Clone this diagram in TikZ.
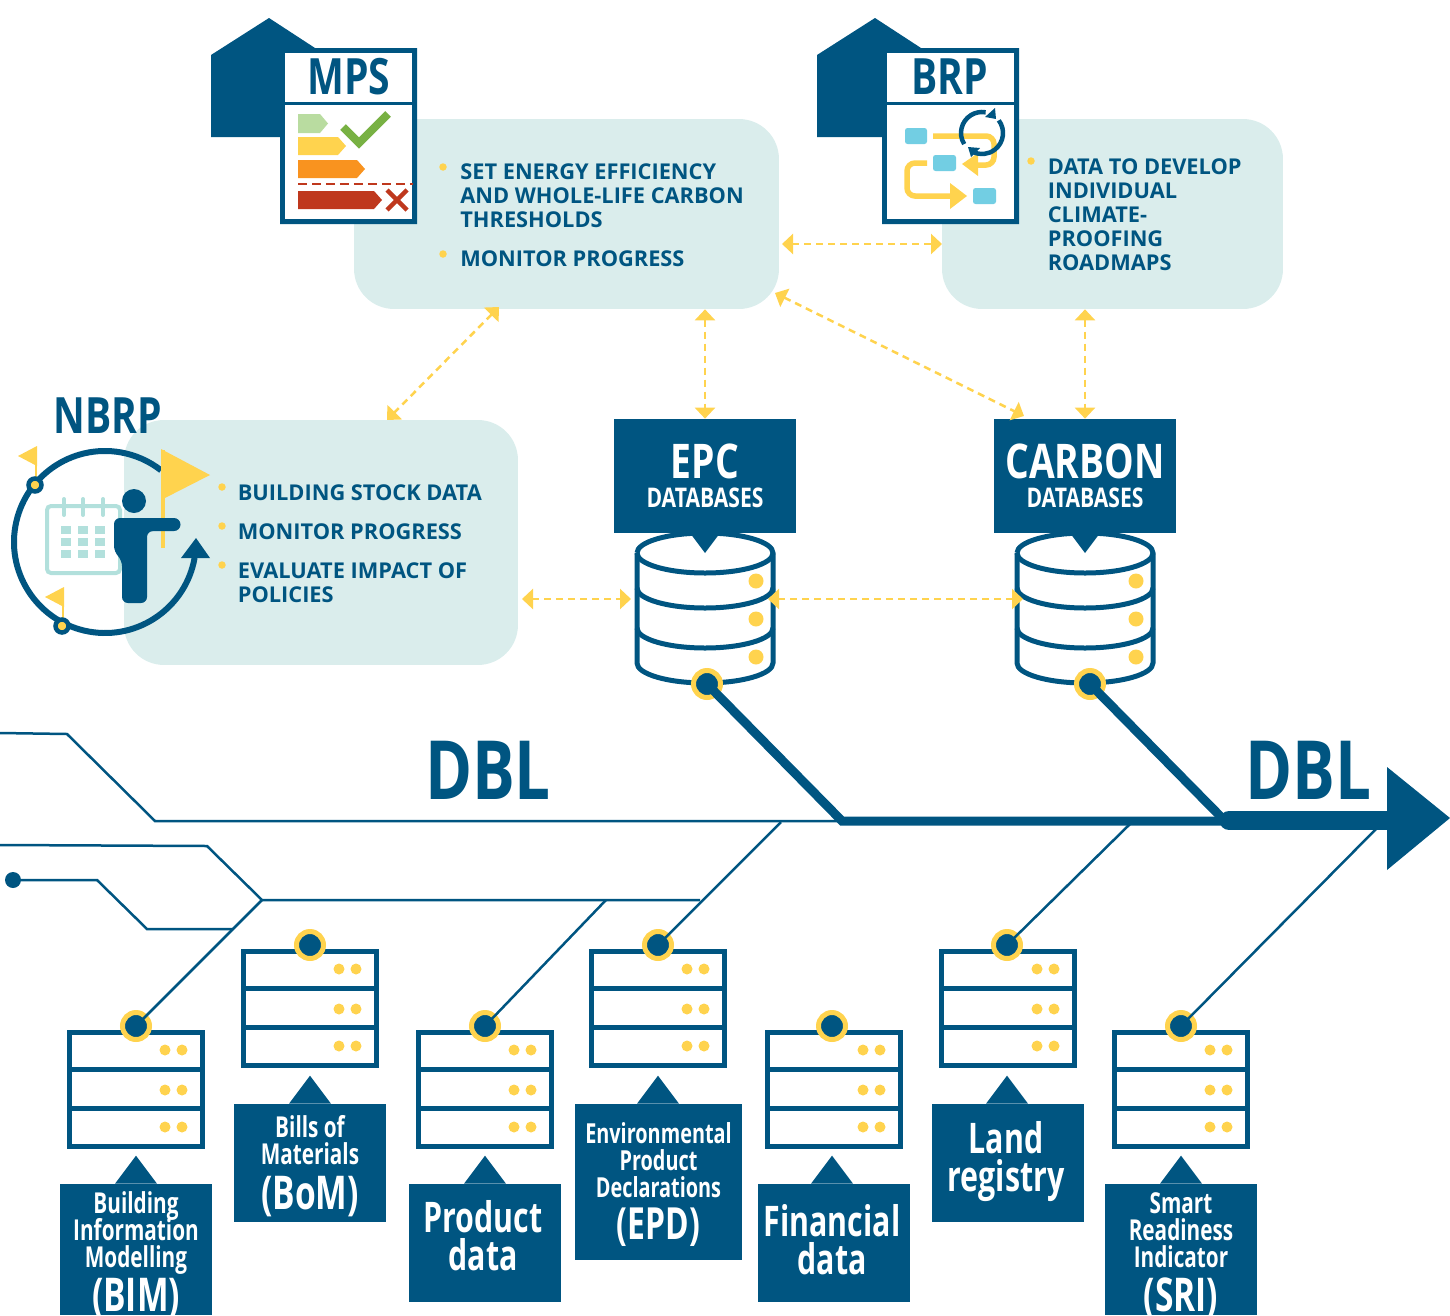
\documentclass[tikz,border=0pt]{standalone}
\usepackage{fontspec}
\setmainfont{Open Sans}
\newfontfamily\condfont[FakeStretch=0.72]{Open Sans}
\newfontfamily\headfont[FakeStretch=0.78]{Open Sans}
\usetikzlibrary{arrows.meta}
\definecolor{navy}{HTML}{005581}
\definecolor{tealbg}{HTML}{DAEDEC}
\definecolor{sun}{HTML}{FFD34E}
\definecolor{calteal}{HTML}{B2E0DC}
\definecolor{skyblue}{HTML}{72CEE3}
\definecolor{barone}{HTML}{B9DCA0}
\definecolor{barthree}{HTML}{F9931F}
\definecolor{barfour}{HTML}{BF381D}
\definecolor{tickgreen}{HTML}{78B143}
\AtBeginDocument{\lineskiplimit=-50pt\normallineskiplimit=-50pt}
\tikzset{
  infobox/.style={fill=tealbg,rounded corners=0.8cm,minimum width=#1},
  infotext/.style={text=navy,anchor=west,align=left,font=\bfseries\fontsize{12.4}{13.66}\selectfont,inner sep=0pt},
  bullet/.style={circle,fill=sun,minimum size=0.15cm,inner sep=0pt},
  dbarrow/.style={{Triangle[length=0.22cm,width=0.4cm]}-{Triangle[length=0.22cm,width=0.4cm]},sun,line width=0.05cm,dash pattern=on 0.14cm off 0.1cm},
  ringdot/.style={circle,draw=sun,fill=navy,line width=0.1cm,minimum size=0.54cm,inner sep=0pt},
  wire/.style={navy,line width=0.05cm},
  heavy/.style={navy,line width=0.18cm,line cap=round},
  bluebox/.style={fill=navy,inner sep=0pt},
  boxtext/.style={text=white,align=center,inner sep=0pt,font=\condfont\bfseries\fontsize{24}{21.6}\selectfont},
  headtext/.style={text=navy,inner sep=0pt,font=\headfont\bfseries\fontsize{28.5}{28.5}\selectfont},
  dbltext/.style={text=navy,inner sep=0pt,font=\headfont\bfseries\fontsize{46.5}{46.5}\selectfont}
}
\newcommand{\smalllbl}{\fontsize{16.4}{21.6}\selectfont}
\newcommand{\parlbl}{\fontsize{26.5}{21.6}\selectfont}
\begin{document}
\begin{tikzpicture}[x=0.02cm,y=-0.02cm]
\useasboundingbox (0,0) rectangle (1450,1315);
% info boxes
\node[infobox=8.5cm,minimum height=3.8cm] (mps) at (566.5,214) {};
\node[infobox=6.82cm,minimum height=3.8cm] (brp) at (1112.5,214) {};
\node[infobox=7.88cm,minimum height=4.9cm] (nbrp) at (321,542.5) {};
\node[infotext] (mpstext) at (460,196) {SET ENERGY EFFICIENCY\\AND WHOLE-LIFE CARBON\\THRESHOLDS};
\node[infotext] (mpsmon) at (460,259) {MONITOR PROGRESS};
\node[infotext] (brptext) at (1047.5,215) {DATA TO DEVELOP\\INDIVIDUAL\\CLIMATE-\\PROOFING\\ROADMAPS};
\node[infotext] (nbrpdata) at (237.5,493) {BUILDING STOCK DATA};
\node[infotext] (nbrpmon) at (237.5,532) {MONITOR PROGRESS};
\node[infotext] (nbrpeval) at (237.5,583) {EVALUATE IMPACT OF\\POLICIES};
\foreach \nm/\x/\y in {a/443/167,b/443/254,c/1031/161,d/222/487,e/222/526,f/222/565}
    \node[bullet] (bullet\nm) at (\x,\y) {};
% MPS document
\fill[navy] (211,55) -- (269,18) -- (315,48) -- (417,48) -- (417,224) -- (280,224) -- (280,137) -- (211,137) -- cycle;
\draw[navy,line width=0.1cm,fill=white] (282.5,50.5) rectangle (414.5,221.5);
\draw[navy,line width=0.06cm] (285,103) -- (412,103);
\node[headtext] (mpstitle) at (349,77) {MPS};
\foreach \col/\a/\b/\end in {barone/114/133/320,sun/137/155/338,barthree/160/178/357,barfour/191/209/374}
    \fill[\col] (298,\a) -- (\end,\a) -- (\end+8,{(\a+\b)/2}) -- (\end,\b) -- (298,\b) -- cycle;
\draw[barfour,line width=0.05cm,dash pattern=on 0.18cm off 0.1cm] (298,184) -- (413,184);
\draw[tickgreen,line width=0.16cm] (343,127) -- (359,143) -- (388,114);
\draw[barfour,line width=0.09cm] (387,190) -- (407,210) (407,190) -- (387,210);
% BRP document
\fill[navy] (817,55) -- (875,18) -- (921,48) -- (1019,48) -- (1019,224) -- (882,224) -- (882,137) -- (817,137) -- cycle;
\draw[navy,line width=0.1cm,fill=white] (884.5,50.5) rectangle (1016.5,221.5);
\draw[navy,line width=0.06cm] (887,103) -- (1014,103);
\node[headtext] (brptitle) at (950,77) {BRP};
\fill[skyblue,rounded corners=0.05cm] (905,128) rectangle (927,144);
\fill[skyblue,rounded corners=0.05cm] (933,155) rectangle (956,171);
\fill[skyblue,rounded corners=0.05cm] (973,188) rectangle (996,204);
\draw[sun,line width=0.11cm,rounded corners=0.16cm] (933,136) -- (994,136) -- (994,165) -- (975,165);
\fill[sun] (962,164) -- (978,153) -- (978,176) -- cycle;
\draw[sun,line width=0.11cm,rounded corners=0.16cm] (927,163) -- (907,163) -- (907,196) -- (952,196);
\fill[sun] (967,196) -- (950,183) -- (950,209) -- cycle;
\draw[navy,line width=0.09cm] (982,133) ++(148:21) arc[start angle=148,end angle=280,radius=21];
\draw[navy,line width=0.09cm] (982,133) ++(323:21) arc[start angle=323,end angle=475,radius=21];
\fill[navy] (995,108) -- (996,119) -- (985,117) -- cycle;
\fill[navy] (968,147) -- (980,148) -- (971,157) -- cycle;
% NBRP icon
\node[headtext] (nbrptitle) at (108,416) {NBRP};
\draw[navy,line width=0.12cm] (105,542) ++(10:91) arc[start angle=10,end angle=308,radius=91];
\fill[navy] (196,538) -- (210,558) -- (181,558) -- cycle;
\fill[sun] (161,450) rectangle (165,548);
\fill[sun] (161,449) -- (210,475) -- (161,500) -- cycle;
\draw[calteal,line width=0.08cm,rounded corners=0.08cm] (47,506) rectangle (120,573);
\foreach \x in {64,83,103}
    \draw[calteal,line width=0.08cm,line cap=round] (\x,499) -- (\x,515);
\foreach \x in {61,78,95}
    \foreach \y in {526,538,550}
        \fill[calteal] (\x,\y) rectangle (\x+10,\y+8);
\fill[navy] (134,501) circle[radius=12];
\fill[navy,rounded corners=0.12cm] (114,530) -- (114,518) -- (150,518) -- (150,531) -- (147,531) -- (147,603) -- (122,603) -- (122,560) -- (114,552) -- cycle;
\fill[navy] (125,518) -- (174,518) arc[start angle=-90,end angle=90,radius=6.5] -- (125,531) -- cycle;
\foreach \nm/\x/\y in {flaga/35/485,flagb/62/626}{
    \fill[sun] (\x+2,\y-39) -- (\x-17,\y-29) -- (\x+2,\y-19) -- cycle;
    \draw[sun,line width=0.04cm] (\x+1,\y) -- (\x+1,\y-30);
    \node[circle,fill=sun,draw=navy,line width=0.09cm,minimum size=0.26cm,inner sep=0pt] (\nm) at (\x,\y) {};
}
% databases
\node[bluebox,minimum width=3.64cm,minimum height=2.28cm] (epc) at (705,476) {};
\node[bluebox,minimum width=3.64cm,minimum height=2.28cm] (carbon) at (1085,476) {};
\foreach \nm/\t/\x in {epc/EPC/705,carbon/CARBON/1085}{
    \node[boxtext,font=\headfont\bfseries\fontsize{27.2}{27.2}\selectfont] (\nm title) at (\x,461) {\t};
    \node[boxtext,font=\headfont\bfseries\fontsize{15.4}{15.4}\selectfont] (\nm sub) at (\x,498) {DATABASES};
}
\foreach \nm/\x/\rx in {epc/705/707,carbon/1085/1090}{
    \draw[navy,line width=0.1cm,fill=white] (\x-68,553) -- (\x-68,663) arc[start angle=180,end angle=0,x radius=68,y radius=20] -- (\x+68,553) arc[start angle=0,end angle=-180,x radius=68,y radius=20];
    \draw[navy,line width=0.1cm] (\x-68,553) arc[start angle=180,end angle=0,x radius=68,y radius=20];
    \draw[navy,line width=0.1cm] (\x-68,588) arc[start angle=180,end angle=0,x radius=68,y radius=20];
    \draw[navy,line width=0.1cm] (\x-68,628) arc[start angle=180,end angle=0,x radius=68,y radius=20];
    \fill[navy] (\x-15,533) -- (\x+15,533) -- (\x,553) -- cycle;
    \foreach \y in {581,619,657}
        \fill[sun] (\x+51,\y) circle[radius=7.5];
    \node[ringdot] (\nm dot) at (\rx,684) {};
}
% double arrows
\coordinate (mpsbrpa) at (782,244);
\coordinate (mpsbrpb) at (942,244);
\coordinate (mpsnbrpa) at (499,307);
\coordinate (mpsnbrpb) at (387,420);
\coordinate (mpscarbona) at (775,293);
\coordinate (mpscarbonb) at (1024,416);
\coordinate (nbrpepca) at (522,599);
\coordinate (nbrpepcb) at (631,599);
\coordinate (epccarbona) at (768,599);
\coordinate (epccarbonb) at (1023,599);
\draw[dbarrow] (mpsbrpa) -- (mpsbrpb);
\draw[dbarrow] (mpsnbrpa) -- (mpsnbrpb);
\draw[dbarrow] (mps.south -| epc) -- (epc.north);
\draw[dbarrow] (mpscarbona) -- (mpscarbonb);
\draw[dbarrow] (brp.south -| carbon) -- (carbon.north);
\draw[dbarrow] (nbrpepca) -- (nbrpepcb);
\draw[dbarrow] (epccarbona) -- (epccarbonb);
% DBL spine
\node[dbltext] (dblleft) at (488,770) {DBL};
\node[dbltext] (dblright) at (1308,770) {DBL};
\foreach \nm/\x/\dx/\y in {bim/136/136/1026,bom/310/310/945,product/485/485/1026,epd/658/658/945,financial/834/832/1026,land/1008/1007/945,sri/1181/1181/1026}{
    \draw[navy,line width=0.1cm,fill=white] (\x-66.5,\y+6.5) rectangle (\x+66.5,\y+120.5);
    \draw[navy,line width=0.1cm] (\x-66.5,\y+43) -- (\x+66.5,\y+43);
    \draw[navy,line width=0.1cm] (\x-66.5,\y+82) -- (\x+66.5,\y+82);
    \foreach \dy in {24,64,101}{
        \fill[sun] (\x+29,\y+\dy) circle[radius=5.5];
        \fill[sun] (\x+46,\y+\dy) circle[radius=5.5];
    }
    \node[ringdot] (\nm dot) at (\dx,\y) {};
}
\coordinate (spinea) at (0,733);
\coordinate (spineb) at (67,734);
\coordinate (spinec) at (155,821);
\coordinate (spined) at (842,821);
\coordinate (spinee) at (1225,821);
\coordinate (spinef) at (1395,820.5);
\coordinate (spineg) at (1229,820.5);
\coordinate (wirea) at (0,845);
\coordinate (wireb) at (207,846);
\coordinate (wirec) at (262,900);
\coordinate (wired) at (700,900);
\coordinate (wiree) at (781,822);
\coordinate (wiref) at (606,900);
\coordinate (wireg) at (1130,824);
\coordinate (wireh) at (1376,829);
\coordinate (wirei) at (97,880);
\coordinate (wirej) at (147,929);
\coordinate (wirek) at (233,929);
\node[circle,fill=navy,minimum size=0.32cm,inner sep=0pt] (startdot) at (13,880) {};
\draw[wire] (spinea) -- (spineb) -- (spinec) -- (spined);
\draw[wire] (wirea) -- (wireb) -- (wirec) -- (wired);
\draw[wire] (startdot.center) -- (wirei) -- (wirej) -- (wirek);
\draw[wire] (bimdot.center) -- (wirec);
\draw[wire] (productdot.center) -- (wiref);
\draw[wire] (epddot.center) -- (wiree);
\draw[wire] (landdot.center) -- (wireg);
\draw[wire] (sridot.center) -- (wireh);
\draw[heavy] (epcdot.center) -- (spined) -- (spinee);
\draw[heavy] (carbondot.center) -- (spinee);
\draw[navy,line width=0.38cm,line cap=round] (spineg) -- (spinef);
\fill[navy] (1387,767) -- (1450,818) -- (1387,870) -- cycle;
% source labels
\node[bluebox,minimum width=3.04cm,minimum height=2.62cm] (bim) at (136,1249.5) {};
\node[bluebox,minimum width=3.04cm,minimum height=2.36cm] (bom) at (310,1163) {};
\node[bluebox,minimum width=3.04cm,minimum height=2.36cm] (product) at (485,1243) {};
\node[bluebox,minimum width=3.34cm,minimum height=3.12cm] (epdl) at (658.5,1182) {};
\node[bluebox,minimum width=3.04cm,minimum height=2.36cm] (financial) at (834,1243) {};
\node[bluebox,minimum width=3.04cm,minimum height=2.36cm] (land) at (1008,1163) {};
\node[bluebox,minimum width=3.04cm,minimum height=2.62cm] (sri) at (1181,1249.5) {};
\foreach \nm/\x in {bim/136,bom/310,product/485,epdl/658,financial/832,land/1007,sri/1181}
    \fill[navy] (\nm.north -| \x,0) ++(-21,0) -- ++(21,-28) -- ++(21,28) -- cycle;
\node[boxtext] (bimtext) at (136,1255.5) {\smalllbl Building\\[-6.2pt]\smalllbl Information\\[-6.2pt]\smalllbl Modelling\\[3.4pt]\parlbl (BIM)};
\node[boxtext] (bomtext) at (310,1166.5) {\smalllbl Bills of\\[-6.2pt]\smalllbl Materials\\[4pt]\parlbl (BoM)};
\node[boxtext] (producttext) at (483,1236) {Product\\data};
\node[boxtext] (epdtext) at (658.5,1184.5) {\fontsize{15.7}{21.6}\selectfont Environmental\\[-6.2pt]\fontsize{15.7}{21.6}\selectfont Product\\[-6.2pt]\fontsize{15.7}{21.6}\selectfont Declarations\\[2.8pt]\fontsize{25.2}{21.6}\selectfont (EPD)};
\node[boxtext] (financialtext) at (832,1240) {Financial\\data};
\node[boxtext] (landtext) at (1006,1162) {Land\\registry};
\node[boxtext] (sritext) at (1181,1255.5) {\smalllbl Smart\\[-6.2pt]\smalllbl Readiness\\[-6.2pt]\smalllbl Indicator\\[3.4pt]\parlbl (SRI)};
\end{tikzpicture}
\end{document}
